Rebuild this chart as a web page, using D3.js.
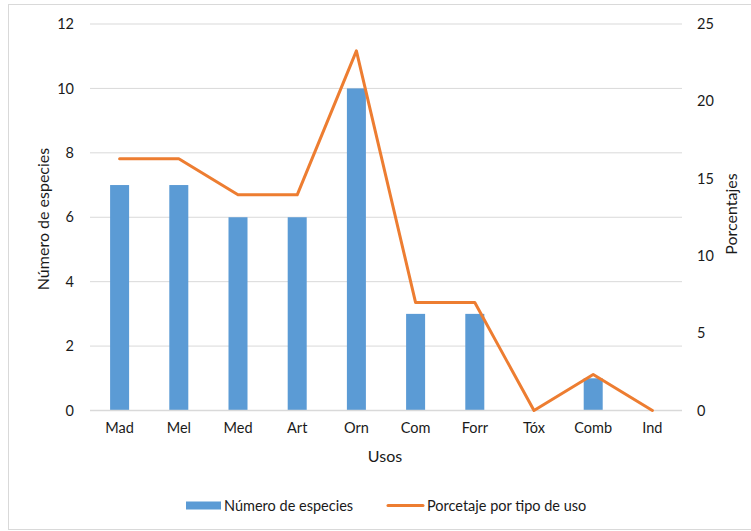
<!DOCTYPE html>
<html>
<head>
<meta charset="utf-8">
<script src="https://cdn.jsdelivr.net/npm/d3@7/dist/d3.min.js"></script>
<style>
  html, body { margin: 0; padding: 0; background: #fff; }
  svg text { font-family: Lato, "Open Sans", sans-serif; fill: #1a1a1a; }
</style>
</head>
<body>
<svg id="chart" width="751" height="531"></svg>
<script>
// Usos de las especies: número de especies y porcentaje por tipo de uso
const categories = ["Mad", "Mel", "Med", "Art", "Orn", "Com", "Forr", "Tóx", "Comb", "Ind"];
const speciesCount = [7, 7, 6, 6, 10, 3, 3, 0, 1, 0];
const percentages = [16.28, 16.28, 13.95, 13.95, 23.26, 6.98, 6.98, 0, 2.33, 0];
const leftTicks = [0, 2, 4, 6, 8, 10, 12];
const rightTicks = [0, 5, 10, 15, 20, 25];

const svg = d3.select("#chart");
const W = 751;
const plot = { left: 90, right: 682, top: 24, bottom: 410.5 };
const tickFont = "14.5px", titleFont = "16px";

// chart frame
svg.append("rect")
  .attr("x", 8.5).attr("y", 4.5)
  .attr("width", W - 8).attr("height", 525)
  .attr("fill", "#fff").attr("stroke", "#d9d9d9").attr("stroke-width", 1);

const x = d3.scaleBand().domain(categories).range([plot.left, plot.right]);
const yLeft = d3.scaleLinear().domain([0, 12]).range([plot.bottom, plot.top]);
const yRight = d3.scaleLinear().domain([0, 25]).range([plot.bottom, plot.top]);

// horizontal gridlines
svg.append("g").selectAll("line").data(leftTicks.filter(d => d > 0)).join("line")
  .attr("x1", plot.left).attr("x2", plot.right)
  .attr("y1", d => yLeft(d)).attr("y2", d => yLeft(d))
  .attr("stroke", "#d9d9d9").attr("stroke-width", 1);

// bars
const barW = 19;
svg.append("g").selectAll("rect").data(categories).join("rect")
  .attr("x", (c) => x(c) + x.bandwidth() / 2 - barW / 2)
  .attr("width", barW)
  .attr("y", (c, i) => yLeft(speciesCount[i]))
  .attr("height", (c, i) => yLeft(0) - yLeft(speciesCount[i]))
  .attr("fill", "#5b9bd5");

// baseline
svg.append("line")
  .attr("x1", plot.left).attr("x2", plot.right)
  .attr("y1", yLeft(0)).attr("y2", yLeft(0))
  .attr("stroke", "#d9d9d9").attr("stroke-width", 1.5);

// percentage line
const line = d3.line()
  .x((d, i) => x(categories[i]) + x.bandwidth() / 2)
  .y(d => yRight(d));
svg.append("path").datum(percentages)
  .attr("d", line)
  .attr("fill", "none").attr("stroke", "#ed7d31")
  .attr("stroke-width", 3).attr("stroke-linejoin", "round").attr("stroke-linecap", "round");

// left axis
const axisLeft = d3.axisLeft(yLeft).tickValues(leftTicks).tickSize(0).tickPadding(16);
const gL = svg.append("g").attr("transform", `translate(${plot.left},0)`).call(axisLeft);
gL.select(".domain").remove();
gL.selectAll("text").style("font-size", tickFont).attr("fill", "#1a1a1a");

// right axis
const axisRight = d3.axisRight(yRight).tickValues(rightTicks).tickSize(0).tickPadding(15);
const gR = svg.append("g").attr("transform", `translate(${plot.right},0)`).call(axisRight);
gR.select(".domain").remove();
gR.selectAll("text").style("font-size", tickFont).attr("fill", "#1a1a1a");

// bottom axis
const axisBottom = d3.axisBottom(x).tickSize(0).tickPadding(12);
const gB = svg.append("g").attr("transform", `translate(0,${plot.bottom})`).call(axisBottom);
gB.select(".domain").remove();
gB.selectAll("text").style("font-size", tickFont).attr("fill", "#1a1a1a");

// axis titles
svg.append("text")
  .attr("transform", `translate(49,219) rotate(-90)`)
  .attr("text-anchor", "middle").style("font-size", titleFont)
  .text("Número de especies");
svg.append("text")
  .attr("transform", `translate(737,214) rotate(-90)`)
  .attr("text-anchor", "middle").style("font-size", titleFont)
  .text("Porcentajes");
svg.append("text")
  .attr("x", (plot.left + plot.right) / 2 - 1).attr("y", 462)
  .attr("text-anchor", "middle").style("font-size", titleFont)
  .text("Usos");

// legend
const legend = svg.append("g");
legend.append("rect").attr("x", 186).attr("y", 501.5).attr("width", 35).attr("height", 8).attr("fill", "#5b9bd5");
legend.append("text").attr("x", 224).attr("y", 510.5).style("font-size", tickFont).text("Número de especies");
legend.append("line").attr("x1", 388).attr("x2", 423).attr("y1", 505.5).attr("y2", 505.5)
  .attr("stroke", "#ed7d31").attr("stroke-width", 3).attr("stroke-linecap", "round");
legend.append("text").attr("x", 427).attr("y", 510.5).style("font-size", tickFont).text("Porcetaje por tipo de uso");
</script>
</body>
</html>
